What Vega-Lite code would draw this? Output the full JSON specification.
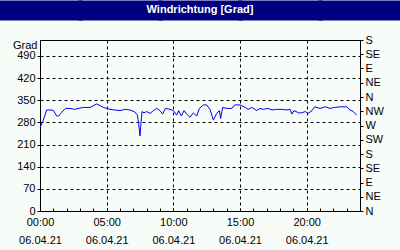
{
  "$schema": "https://vega.github.io/schema/vega-lite/v6.json",
  "width": 320,
  "height": 171,
  "autosize": {"type": "none"},
  "padding": {"left": 40, "top": 40, "right": 40, "bottom": 39},
  "background": "#f8fcf8",
  "title": {"text": "Windrichtung [Grad]", "color": "#ffffff", "fontSize": 11, "fontWeight": "bold", "font": "Liberation Sans", "anchor": "middle", "frame": "group", "offset": 0, "dy": 57, "zindex": 1},
  "config": {
    "view": {"stroke": "#000000", "strokeWidth": 1},
    "axis": {"labelFont": "Liberation Sans", "labelFontSize": 11, "labelColor": "#000000", "titleFont": "Liberation Sans", "titleColor": "#000000", "domainColor": "#000000", "tickColor": "#000000", "labelFlush": false}
  },
  "data": {"values": [
    {"h": 0.0, "d": 265}, {"h": 0.1, "d": 272}, {"h": 0.25, "d": 287}, {"h": 0.5, "d": 319},
    {"h": 0.75, "d": 319}, {"h": 1.0, "d": 318}, {"h": 1.25, "d": 300}, {"h": 1.4, "d": 300},
    {"h": 1.6, "d": 310}, {"h": 1.9, "d": 324}, {"h": 2.25, "d": 324}, {"h": 2.6, "d": 321},
    {"h": 3.0, "d": 325}, {"h": 3.25, "d": 327}, {"h": 3.75, "d": 327}, {"h": 4.1, "d": 335},
    {"h": 4.25, "d": 338}, {"h": 4.5, "d": 333}, {"h": 4.75, "d": 327}, {"h": 5.25, "d": 321},
    {"h": 5.6, "d": 319}, {"h": 6.0, "d": 317}, {"h": 6.4, "d": 321}, {"h": 6.75, "d": 319},
    {"h": 7.1, "d": 313}, {"h": 7.3, "d": 303}, {"h": 7.4, "d": 277}, {"h": 7.5, "d": 237},
    {"h": 7.55, "d": 266}, {"h": 7.65, "d": 314}, {"h": 7.8, "d": 310}, {"h": 8.0, "d": 314},
    {"h": 8.25, "d": 308}, {"h": 8.5, "d": 317}, {"h": 8.75, "d": 324}, {"h": 9.0, "d": 317},
    {"h": 9.2, "d": 306}, {"h": 9.4, "d": 324}, {"h": 9.75, "d": 321}, {"h": 10.0, "d": 317},
    {"h": 10.25, "d": 303}, {"h": 10.4, "d": 317}, {"h": 10.6, "d": 300}, {"h": 10.8, "d": 317},
    {"h": 11.0, "d": 306}, {"h": 11.25, "d": 296}, {"h": 11.5, "d": 310}, {"h": 11.75, "d": 300},
    {"h": 11.95, "d": 324}, {"h": 12.25, "d": 335}, {"h": 12.5, "d": 335}, {"h": 12.75, "d": 321},
    {"h": 13.0, "d": 287}, {"h": 13.25, "d": 308}, {"h": 13.45, "d": 317}, {"h": 13.55, "d": 292},
    {"h": 13.7, "d": 327}, {"h": 14.0, "d": 324}, {"h": 14.4, "d": 324}, {"h": 14.6, "d": 335},
    {"h": 15.0, "d": 335}, {"h": 15.4, "d": 327}, {"h": 15.6, "d": 321}, {"h": 15.9, "d": 327},
    {"h": 16.25, "d": 317}, {"h": 16.5, "d": 324}, {"h": 16.75, "d": 321}, {"h": 17.1, "d": 324},
    {"h": 17.4, "d": 319}, {"h": 17.75, "d": 321}, {"h": 18.1, "d": 321}, {"h": 18.5, "d": 319},
    {"h": 18.75, "d": 321}, {"h": 18.9, "d": 306}, {"h": 19.05, "d": 317}, {"h": 19.4, "d": 310},
    {"h": 19.6, "d": 310}, {"h": 19.9, "d": 314}, {"h": 20.1, "d": 308}, {"h": 20.4, "d": 317},
    {"h": 20.6, "d": 329}, {"h": 21.0, "d": 324}, {"h": 21.4, "d": 329}, {"h": 21.75, "d": 324},
    {"h": 22.1, "d": 327}, {"h": 22.5, "d": 329}, {"h": 23.0, "d": 329}, {"h": 23.25, "d": 319},
    {"h": 23.5, "d": 314}, {"h": 23.75, "d": 303}
  ]},
  "layer": [
    {
      "mark": {"type": "line", "color": "#0000ff", "strokeWidth": 1},
      "encoding": {
        "x": {
          "field": "h", "type": "quantitative",
          "scale": {"domain": [0, 24], "nice": false, "zero": false},
          "axis": {
            "orient": "bottom", "title": null,
            "values": [0,1,2,3,4,5,6,7,8,9,10,11,12,13,14,15,16,17,18,19,20,21,22,23,24],
            "tickSize": -3,
            "labelExpr": "datum.value % 5 == 0 && datum.value < 24 ? [(datum.value < 10 ? '0' : '') + datum.value + ':00', '06.04.21'] : ''",
            "labelOverlap": false, "labelFlush": false,
            "labelPadding": 8, "labelBaseline": "top", "labelLineHeight": 18,
            "grid": true, "gridColor": "#000000", "gridDash": [3, 3],
            "gridOpacity": {"condition": {"test": "datum.value % 5 == 0", "value": 1}, "value": 0}
          }
        },
        "y": {
          "field": "d", "type": "quantitative",
          "scale": {"domain": [0, 540], "nice": false},
          "axis": {
            "orient": "left", "values": [0, 70, 140, 210, 280, 350, 420, 490],
            "tickSize": 3, "labelPadding": 2,
            "grid": true, "gridColor": "#000000", "gridDash": [3, 3],
            "title": "Grad", "titleAngle": 0, "titleAlign": "right", "titleBaseline": "middle",
            "titleX": -3, "titleY": 5, "titleFontWeight": "normal", "titleFontSize": 11
          }
        }
      }
    },
    {
      "mark": {"type": "line", "opacity": 0},
      "encoding": {
        "x": {
          "field": "h", "type": "quantitative",
          "scale": {"domain": [0, 24], "nice": false, "zero": false},
          "axis": {
            "orient": "top", "title": null, "values": [0, 6, 12, 18, 24],
            "tickSize": 20, "tickWidth": 84, "tickColor": "#000080", "tickCap": "butt",
            "labels": false, "domain": false, "grid": false, "offset": 20
          }
        },
        "y": {
          "field": "d", "type": "quantitative",
          "scale": {"domain": [0, 540], "nice": false},
          "axis": {
            "orient": "right", "title": null,
            "values": [0, 45, 90, 135, 180, 225, 270, 315, 360, 405, 450, 495, 540],
            "tickSize": 3, "labelPadding": 2, "grid": false,
            "labelExpr": "['N','NE','E','SE','S','SW','W','NW'][(datum.value / 45) % 8]"
          }
        }
      }
    }
  ],
  "resolve": {"scale": {"x": "independent", "y": "independent"}}
}
